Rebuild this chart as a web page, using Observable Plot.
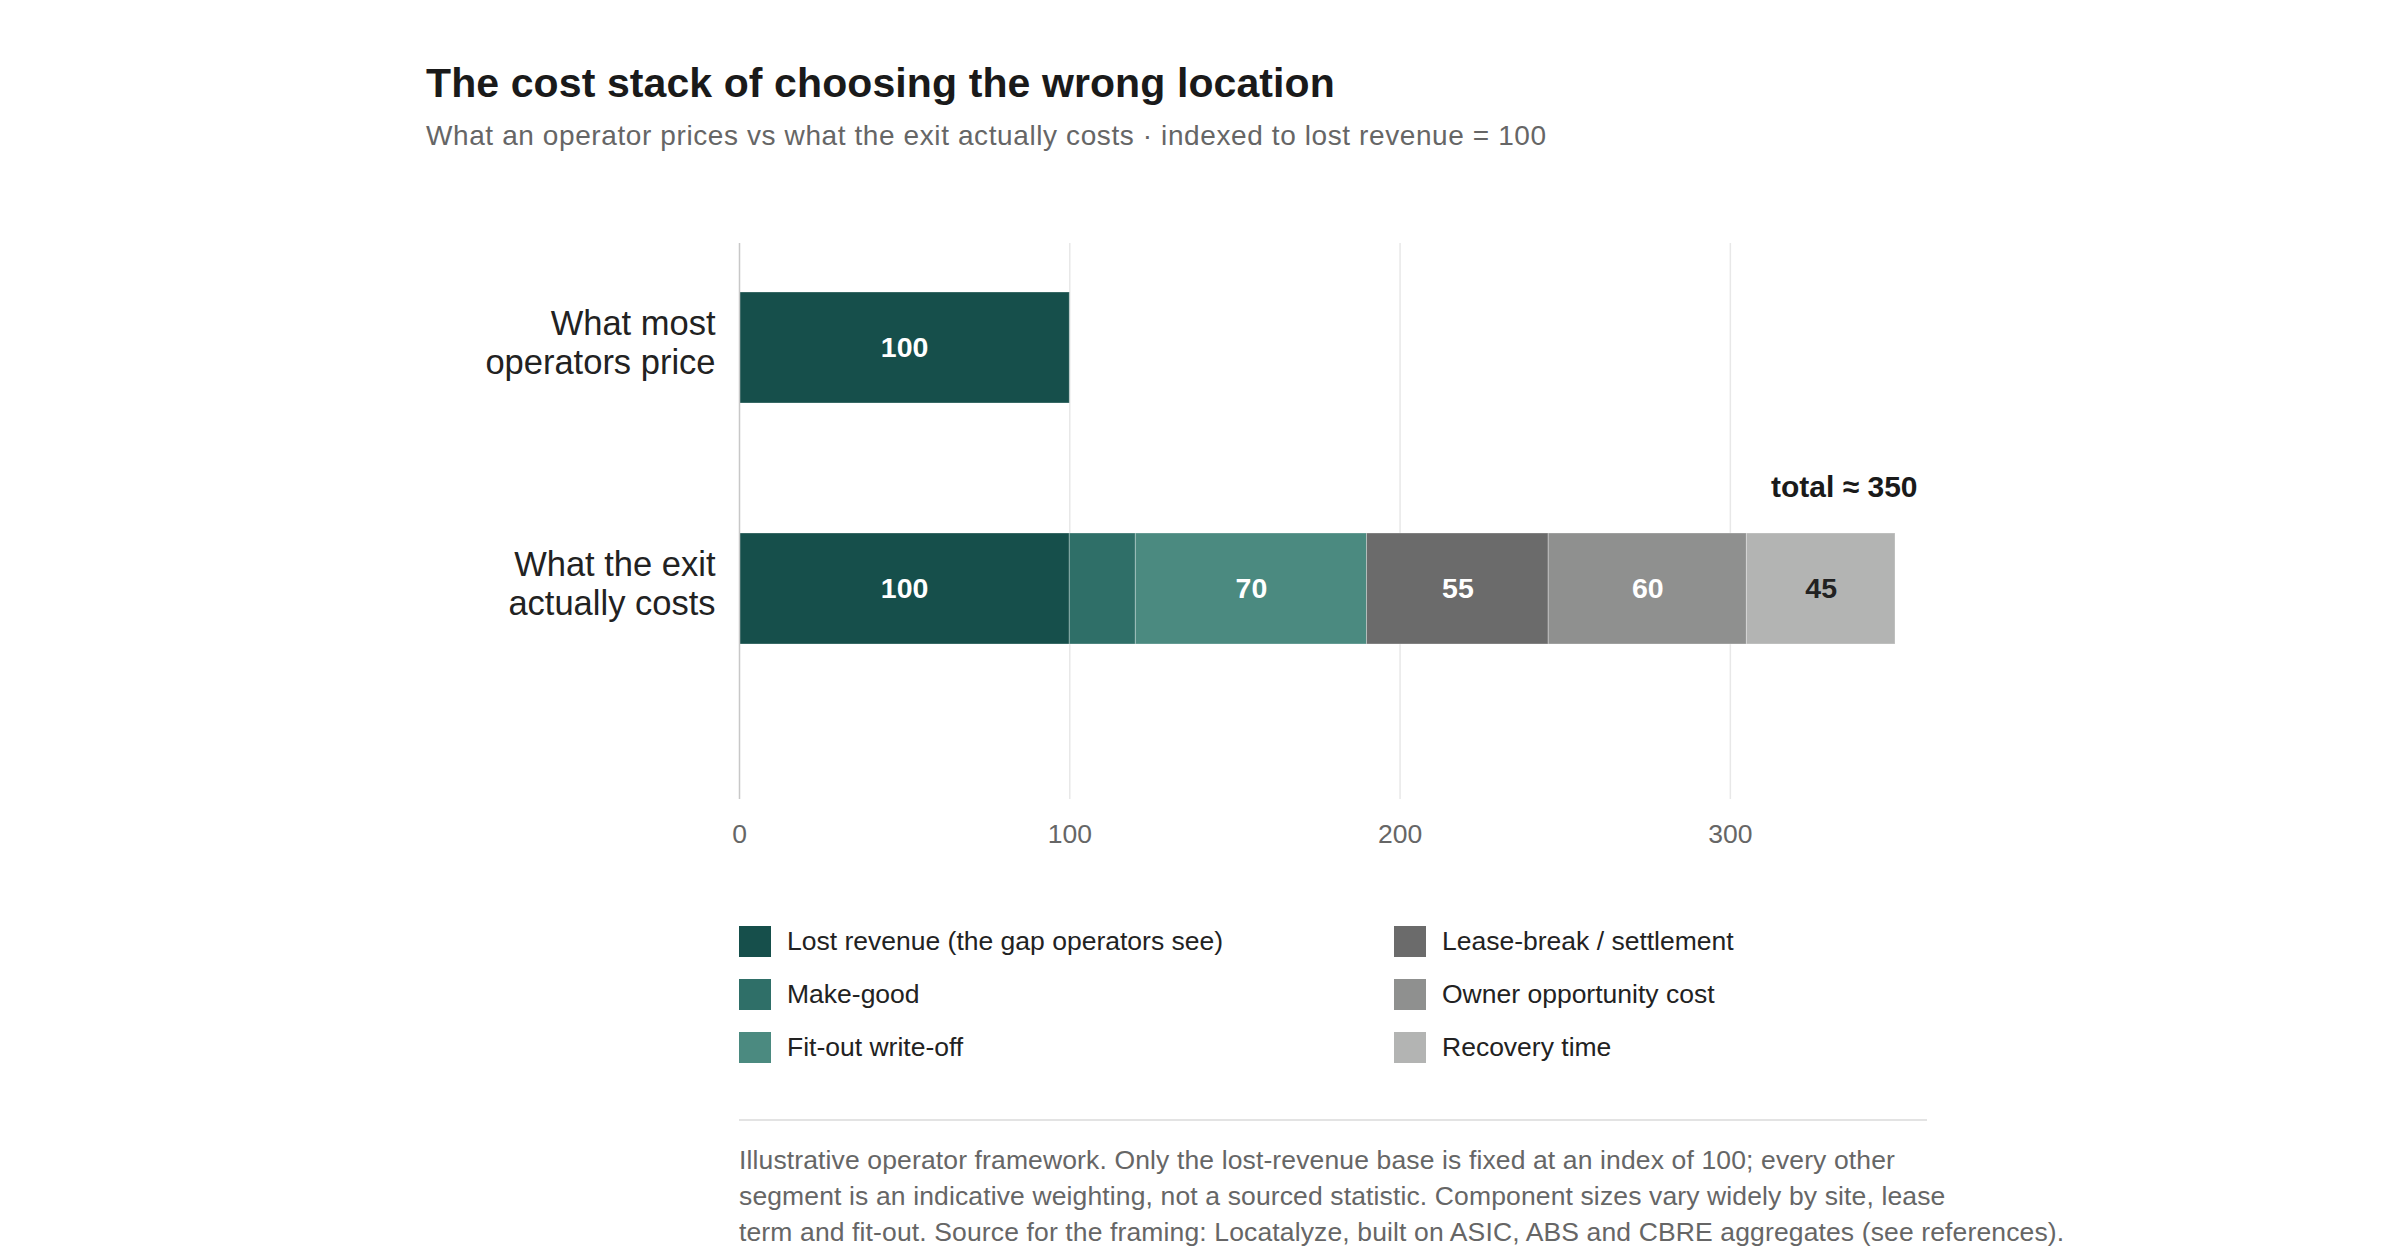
<!DOCTYPE html>
<html>
<head>
<meta charset="utf-8">
<script src="https://cdn.jsdelivr.net/npm/d3@7"></script>
<script src="https://cdn.jsdelivr.net/npm/@observablehq/plot@0.6"></script>
<style>
  html, body { margin: 0; padding: 0; background: #fff; }
  body { width: 2400px; height: 1260px; position: relative; overflow: hidden;
         font-family: "Helvetica Neue", Helvetica, Arial, "Liberation Sans", sans-serif; }
  .abs { position: absolute; }
  #title { left: 426px; top: 63px; font-size: 41px; line-height: 40px; font-weight: 700; color: #1a1a1a; white-space: nowrap; letter-spacing: 0.1px; }
  #subtitle { left: 426px; top: 122px; font-size: 28px; letter-spacing: 0.6px; line-height: 28px; color: #666; white-space: nowrap; }
  #chart { left: 0; top: 200px; }
  #legend { left: 739px; top: 926px; display: grid; grid-template-columns: 655px 500px; grid-auto-flow: column; grid-template-rows: repeat(3, 31px); row-gap: 22px; }
  .item { display: flex; align-items: center; font-size: 26.5px; color: #222; white-space: nowrap; }
  .sw { width: 32px; height: 31px; margin-right: 16px; flex: none; }
  #rule { left: 739px; top: 1119px; width: 1188px; height: 2px; background: #e3e3e3; }
  #note { left: 739px; top: 1142px; font-size: 26.5px; letter-spacing: 0.13px; line-height: 36px; color: #666; white-space: nowrap; }
</style>
</head>
<body>
<div id="title" class="abs">The cost stack of choosing the wrong location</div>
<div id="subtitle" class="abs">What an operator prices vs what the exit actually costs · indexed to lost revenue = 100</div>
<div id="chart" class="abs"></div>
<div id="legend" class="abs"></div>
<div id="rule" class="abs"></div>
<div id="note" class="abs">Illustrative operator framework. Only the lost-revenue base is fixed at an index of 100; every other<br>segment is an indicative weighting, not a sourced statistic. Component sizes vary widely by site, lease<br>term and fit-out. Source for the framing: Locatalyze, built on ASIC, ABS and CBRE aggregates (see references).</div>
<script>
// ---- data ----
const rows = ["What most\noperators price", "What the exit\nactually costs"];
const segments = [
  "Lost revenue (the gap operators see)",
  "Make-good",
  "Fit-out write-off",
  "Lease-break / settlement",
  "Owner opportunity cost",
  "Recovery time"
];
const segmentColors = ["#164f4b", "#2f6f68", "#4b8a80", "#6b6b6b", "#8f908f", "#b3b4b3"];
const pricedValues = [100];
const exitValues = [100, 20, 70, 55, 60, 45];
const xTicks = [0, 100, 200, 300];
const totalLabel = "total ≈ 350";
const totalValue = 350;

const data = [
  ...pricedValues.map((v, i) => ({row: rows[0], segment: segments[i], value: v})),
  ...exitValues.map((v, i) => ({row: rows[1], segment: segments[i], value: v}))
];

const darkLabelSegment = segments[5];
const font = `"Helvetica Neue", Helvetica, Arial, "Liberation Sans", sans-serif`;

const plot = Plot.plot({
  width: 2400,
  height: 659,
  marginLeft: 739,
  marginRight: 505,
  marginTop: 43,
  marginBottom: 60,
  style: {fontFamily: font, background: "transparent"},
  x: {domain: [0, 350]},
  y: {domain: rows, range: [92, 444], paddingInner: 0.54, paddingOuter: 0},
  color: {domain: segments, range: segmentColors},
  marks: [
    Plot.gridX({ticks: xTicks.slice(1), stroke: "#e8e8e8", strokeOpacity: 1, strokeWidth: 1.5}),
    Plot.barX(data, Plot.stackX({x: "value", y: "row", fill: "segment", order: null,
      stroke: "white", strokeOpacity: 0.3, strokeWidth: 1})),
    Plot.ruleX([0], {stroke: "#c8c8c8", strokeWidth: 1.5}),
    Plot.text(data, Plot.stackX({x: "value", y: "row", order: null,
      text: d => (d.value >= 30 && d.segment !== darkLabelSegment) ? String(d.value) : "",
      fill: "white", fontSize: 28.5, fontWeight: "bold"})),
    Plot.text(data, Plot.stackX({x: "value", y: "row", order: null,
      text: d => (d.value >= 30 && d.segment === darkLabelSegment) ? String(d.value) : "",
      fill: "#222", fontSize: 28.5, fontWeight: "bold"})),
    Plot.text([{row: rows[1], x: totalValue, label: totalLabel}], {
      x: "x", y: "row", text: "label", textAnchor: "end", dx: 22, dy: -102,
      fill: "#1a1a1a", fontSize: 30, fontWeight: "bold"}),
    Plot.axisX({ticks: xTicks, tickSize: 0, tickPadding: 25, fontSize: 26.5, fill: "#666", label: null}),
    Plot.axisY({tickSize: 0, tickPadding: 24, fontSize: 34.5, fill: "#222", lineHeight: 1.12, dy: -6, label: null})
  ]
});
document.getElementById("chart").appendChild(plot);

// legend
const legend = document.getElementById("legend");
segments.forEach((s, i) => {
  const item = document.createElement("div");
  item.className = "item";
  const sw = document.createElement("span");
  sw.className = "sw";
  sw.style.background = segmentColors[i];
  item.appendChild(sw);
  item.appendChild(document.createTextNode(s));
  legend.appendChild(item);
});
</script>
</body>
</html>
